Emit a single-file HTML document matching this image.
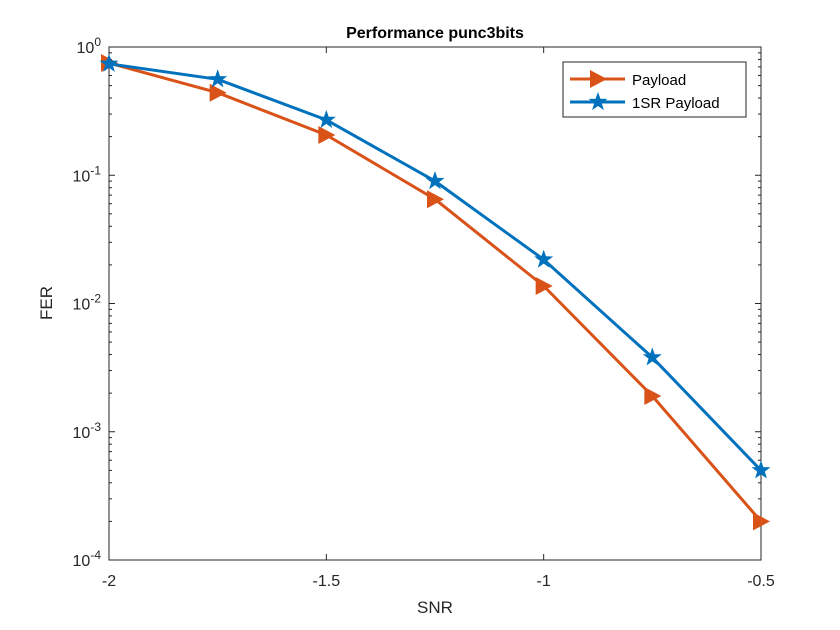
<!DOCTYPE html>
<html><head><meta charset="utf-8"><style>
html,body{margin:0;padding:0;background:#fff;}
svg{display:block;font-family:"Liberation Sans",Arial,sans-serif;}
</style></head><body>
<svg id="chart" width="840" height="630" viewBox="0 0 840 630">
<rect x="0" y="0" width="840" height="630" fill="#fff"/>
<g id="grid"></g>
<g id="series"></g>
<text x="435" y="38" text-anchor="middle" font-size="16" font-weight="bold" fill="#000">Performance  punc3bits</text>
<text x="435" y="613" text-anchor="middle" font-size="17" fill="#262626">SNR</text>
<text transform="translate(52,303) rotate(-90)" text-anchor="middle" font-size="17" fill="#262626">FER</text>
<g>
<rect x="563" y="62" width="183" height="55" fill="#fff" stroke="#262626" stroke-width="1"/>
<g>
<line x1="570" y1="79" x2="625" y2="79" stroke="#D95319" stroke-width="3"/>
<path d="M590,70 L607,79 L590,88 Z" fill="#D95319"/>
<text x="632" y="85" font-size="15" fill="#000">Payload</text>
</g>
<g>
<line x1="570" y1="102" x2="625" y2="102" stroke="#0072BD" stroke-width="3"/>
<path id="legstar" fill="#0072BD"/>
<text x="632" y="108" font-size="15" fill="#000">1SR Payload</text>
</g>
</g>
</svg>
<script>
const xCategories = [-2, -1.75, -1.5, -1.25, -1, -0.75, -0.5];
const payloadValues = [0.75, 0.44, 0.206, 0.065, 0.0137, 0.0019, 0.0002];
const sr1PayloadValues = [0.74, 0.56, 0.27, 0.09, 0.022, 0.0038, 0.0005];
const xTickValues = [-2, -1.5, -1, -0.5];
const xTickLabels = ["-2", "-1.5", "-1", "-0.5"];
const yTickExps = [-4, -3, -2, -1, 0];

const L=109,R=761,T=47,B=560;
const xs=v=>L+(v-(-2))/1.5*(R-L);
const ys=v=>T+(0-Math.log10(v))/4*(B-T);
const NS="http://www.w3.org/2000/svg";
function mk(tag,attrs,parent){const e=document.createElementNS(NS,tag);for(const k in attrs)e.setAttribute(k,attrs[k]);parent.appendChild(e);return e;}
const g=document.getElementById('grid');
const ax=mk('rect',{x:L,y:T,width:R-L,height:B-T,fill:'none',stroke:'#262626','stroke-width':1},g);


xTickValues.forEach((v,i)=>{
  const x=xs(v);
  mk('line',{x1:x,y1:B,x2:x,y2:B-6,stroke:'#262626'},g);
  mk('line',{x1:x,y1:T,x2:x,y2:T+6,stroke:'#262626'},g);
  const t=mk('text',{x:x,y:B+26,'text-anchor':'middle','font-size':16,fill:'#262626'},g);
  t.textContent=xTickLabels[i];
  
  
});
yTickExps.forEach(e=>{
  const y=ys(Math.pow(10,e));
  mk('line',{x1:L,y1:y,x2:L+6,y2:y,stroke:'#262626'},g);
  mk('line',{x1:R,y1:y,x2:R-6,y2:y,stroke:'#262626'},g);
  if(e<0){for(let m=2;m<10;m++){const yy=ys(m*Math.pow(10,e));mk('line',{x1:L,y1:yy,x2:L+3,y2:yy,stroke:'#262626'},g);mk('line',{x1:R,y1:yy,x2:R-3,y2:yy,stroke:'#262626'},g);}}
  const t=mk('text',{x:L-8,y:y+6,'text-anchor':'end','font-size':16,fill:'#262626'},g);
  
  
  t.innerHTML='10<tspan dy="-7" font-size="12">'+e+'</tspan>';
});
function star(cx,cy,r){let p='';for(let i=0;i<10;i++){const a=-Math.PI/2+i*Math.PI/5;const rr=i%2?r*0.4:r;p+=(i?'L':'M')+(cx+rr*Math.cos(a)).toFixed(1)+','+(cy+rr*Math.sin(a)).toFixed(1);}return p+'Z';}
document.getElementById('legstar').setAttribute('d',star(598,102,10));
const s=document.getElementById('series');
function line(vals,color,name,marker){
  const pts=vals.map((v,i)=>xs(xCategories[i]).toFixed(1)+','+ys(v).toFixed(1)).join(' ');
  const pl=mk('polyline',{points:pts,fill:'none',stroke:color,'stroke-width':3,'stroke-linejoin':'round'},s);
  
  
  vals.forEach((v,i)=>{
    const x=xs(xCategories[i]),y=ys(v);
    const d=marker==='tri'?`M${x-8},${y-9} L${x+9},${y} L${x-8},${y+9} Z`:star(x,y,10);
    const m=mk('path',{d:d,fill:color},s);
    
    
  });
}
line(payloadValues,'#D95319','payload','tri');
line(sr1PayloadValues,'#0072BD','1sr-payload','star');
</script>
</body></html>
